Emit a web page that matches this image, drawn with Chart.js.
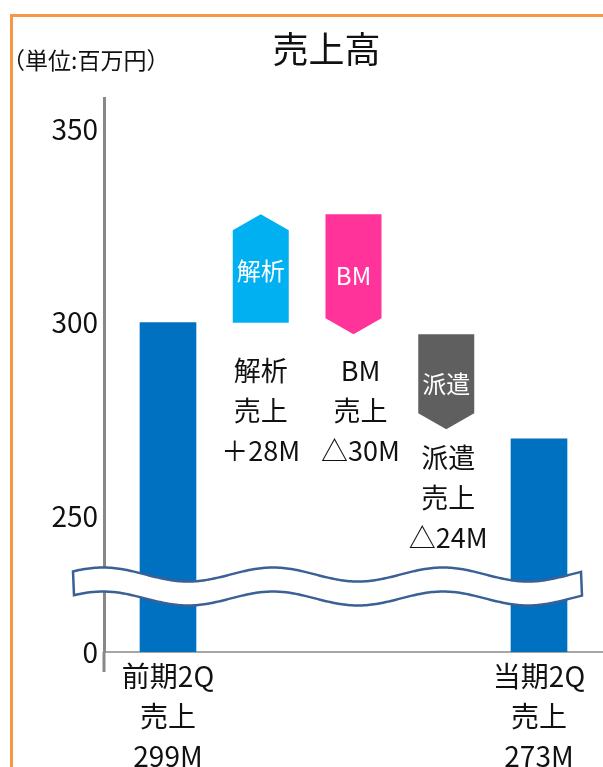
<!DOCTYPE html>
<html lang="ja">
<head>
<meta charset="utf-8">
<title>売上高</title>
<script src="https://cdn.jsdelivr.net/npm/chart.js@4.4.1/dist/chart.umd.min.js"></script>
<style>
  html, body { margin: 0; padding: 0; background: #fff; }
  .wrap { position: relative; width: 603px; height: 767px; overflow: hidden; }
  .wrap canvas { position: absolute; left: 0; top: 0; }
  .frame {
    position: absolute; left: 10px; top: 14px; right: -10px; bottom: -10px;
    border-left: 3px solid #f79646; border-top: 3px solid #f79646;
    pointer-events: none;
  }
</style>
</head>
<body>
<div class="wrap">
  <canvas id="salesChart" width="603" height="767"></canvas>
  <div class="frame"></div>
</div>
<script>
// data
const categories = ['前期2Q', '解析', 'BM', '派遣', '当期2Q'];
const categoryLabels = [['前期2Q', '売上', '299M'], [], [], [], ['当期2Q', '売上', '273M']];
const totalValues = [300, null, null, null, 270];
const stepFrom = [null, 300, 328, 297, null];
const stepTo = [null, 328, 297, 272.5, null];
const stepNames = ['', '解析', 'BM', '派遣', ''];
const stepNotes = [[], ['解析', '売上', '＋28M'], ['BM', '売上', '△30M'], ['派遣', '売上', '△24M'], []];
const yTicks = [250, 300, 350];
const yAxisMin = 215;   // bottom of the broken axis, labelled 0
const yAxisMax = 358;
const unitLabel = '（単位:百万円）';

const FONT = "'Noto Sans CJK JP', 'Noto Sans', sans-serif";
const barColors = ['#0070c0', '#00b0f0', '#ff3399', '#5f5f5f', '#0070c0'];

// arrows, notes under them, the wave break and the unit text
const decorPlugin = {
    id: 'decor',
    afterDatasetsDraw(chart) {
        const ctx = chart.ctx;
        const meta = chart.getDatasetMeta(0);
        const noteGap = [0, 48, 36, 28, 0];
        const noteShift = [0, 0, 7, 2, 0];
        ctx.save();
        meta.data.forEach((bar, i) => {
            if (totalValues[i] !== null) return;
            const p = bar.getProps(['x', 'y', 'base', 'width'], true);
            const top = Math.min(p.y, p.base);
            const bottom = Math.max(p.y, p.base);
            const left = p.x - p.width / 2;
            const right = p.x + p.width / 2;
            const tip = 16;
            ctx.beginPath();
            if (stepTo[i] > stepFrom[i]) {
                ctx.moveTo(left, bottom);
                ctx.lineTo(left, top + tip);
                ctx.lineTo(p.x, top);
                ctx.lineTo(right, top + tip);
                ctx.lineTo(right, bottom);
            } else {
                ctx.moveTo(left, top);
                ctx.lineTo(right, top);
                ctx.lineTo(right, bottom - tip);
                ctx.lineTo(p.x, bottom);
                ctx.lineTo(left, bottom - tip);
            }
            ctx.closePath();
            ctx.fillStyle = barColors[i];
            ctx.fill();

            ctx.fillStyle = '#fff';
            ctx.font = '24px ' + FONT;
            ctx.textAlign = 'center';
            ctx.textBaseline = 'middle';
            ctx.fillText(stepNames[i], p.x, (top + bottom) / 2 + 2);

            ctx.fillStyle = '#111';
            ctx.font = '27px ' + FONT;
            stepNotes[i].forEach((line, k) => {
                ctx.fillText(line, p.x + noteShift[i], bottom + noteGap[i] + k * 40);
            });
        });
        ctx.restore();
    },
    afterDraw(chart) {
        const ctx = chart.ctx;
        const area = chart.chartArea;
        const yScale = chart.scales.y;
        ctx.save();

        // axis line carries on a little below the baseline
        ctx.strokeStyle = '#888';
        ctx.lineWidth = 3;
        ctx.beginPath();
        ctx.moveTo(area.left, area.bottom);
        ctx.lineTo(area.left, area.bottom + 20);
        ctx.stroke();

        // wavy break band
        const amp = 7, period = 170, thick = 24;
        const x0 = area.left - 31, x1 = area.right - 21;
        const mid = yScale.getPixelForValue(235);
        const f = x => mid - amp * Math.cos(2 * Math.PI * (x - (area.left - 1)) / period);
        ctx.beginPath();
        ctx.moveTo(x0, f(x0));
        for (let x = x0; x <= x1; x += 2) ctx.lineTo(x, f(x));
        ctx.lineTo(x1, f(x1) + thick);
        for (let x = x1; x >= x0; x -= 2) ctx.lineTo(x, f(x) + thick);
        ctx.closePath();
        ctx.fillStyle = '#fff';
        ctx.fill();
        ctx.strokeStyle = '#3b6096';
        ctx.lineWidth = 2.5;
        ctx.stroke();

        // unit
        ctx.fillStyle = '#111';
        ctx.font = '23px ' + FONT;
        ctx.textAlign = 'left';
        ctx.textBaseline = 'middle';
        ctx.fillText(unitLabel, 2, 60);
        ctx.restore();
    }
};

const chartData = categories.map((c, i) => ({
    x: i,
    y: totalValues[i] !== null ? totalValues[i] : [stepFrom[i], stepTo[i]]
}));

new Chart(document.getElementById('salesChart'), {
    type: 'bar',
    data: {
        datasets: [{
            label: '売上高',
            data: chartData,
            base: yAxisMin,
            barThickness: 56,
            backgroundColor: categories.map((c, i) => totalValues[i] !== null ? barColors[i] : 'rgba(0,0,0,0)'),
            borderWidth: 0
        }]
    },
    options: {
        responsive: false,
        animation: false,
        devicePixelRatio: 1,
        layout: { padding: { left: 50, right: 0, top: 0, bottom: 0 } },
        plugins: {
            legend: { display: false },
            tooltip: { enabled: false },
            title: {
                display: true,
                text: '売上高',
                color: '#111',
                font: { family: FONT, size: 36, weight: 'normal', lineHeight: 1.2 },
                padding: { top: 28, bottom: 26.8 }
            }
        },
        scales: {
            x: {
                type: 'linear',
                min: -0.69,
                max: 4.69,
                offset: false,
                grid: { display: false, drawTicks: false, offset: false },
                border: { display: true, color: '#a6a6a6', width: 2, dash: [2, 2] },
                afterBuildTicks: scale => {
                    scale.ticks = [0, 4].map(v => ({ value: v }));
                },
                afterFit: scale => { scale.height = 115; },
                ticks: {
                    autoSkip: false,
                    maxRotation: 0,
                    padding: 4,
                    color: '#111',
                    font: { family: FONT, size: 28, lineHeight: 1.43 },
                    callback: value => categoryLabels[value] || ''
                }
            },
            y: {
                min: yAxisMin,
                max: yAxisMax,
                beginAtZero: false,
                grid: { display: false, drawTicks: false },
                border: { display: true, color: '#888', width: 3 },
                afterBuildTicks: scale => {
                    scale.ticks = [yAxisMin].concat(yTicks).map(v => ({ value: v }));
                },
                afterFit: scale => { scale.width = 54; },
                ticks: {
                    padding: 6,
                    color: '#111',
                    font: { family: FONT, size: 28 },
                    callback: value => value === yAxisMin ? '0' : value
                }
            }
        }
    },
    plugins: [decorPlugin]
});
</script>
</body>
</html>
